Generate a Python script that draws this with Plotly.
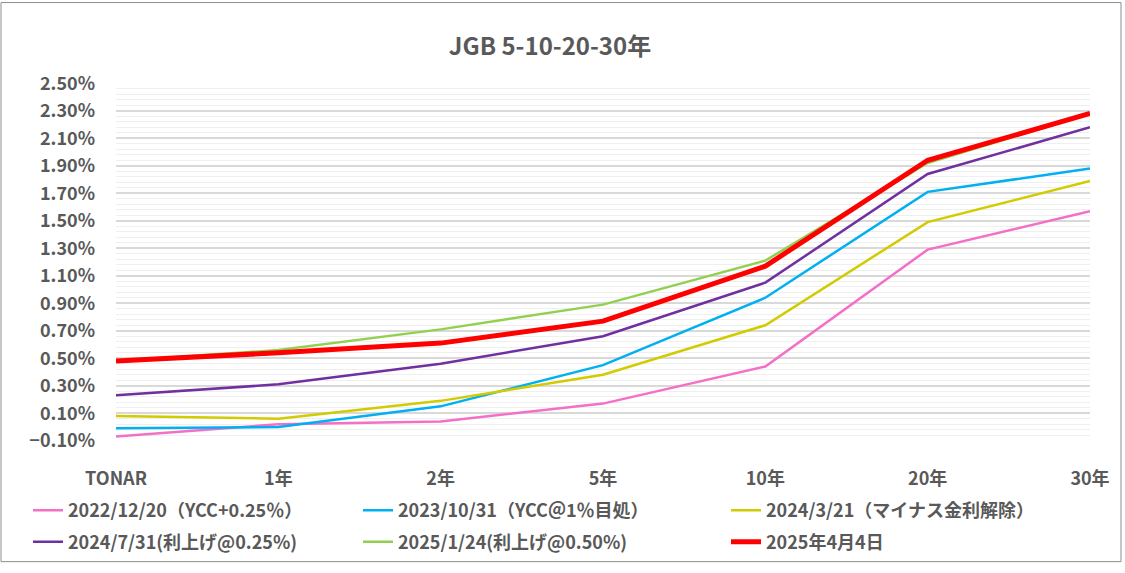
import plotly.graph_objects as go

# 年限（カテゴリ）
tenors = ["TONAR", "1年", "2年", "5年", "10年", "20年", "30年"]

# 各日付の利回り(%)
y_20221220 = [-0.07, 0.02, 0.04, 0.17, 0.44, 1.29, 1.57]
y_20231031 = [-0.01, 0.00, 0.15, 0.45, 0.94, 1.71, 1.88]
y_20240321 = [0.08, 0.06, 0.19, 0.38, 0.74, 1.49, 1.79]
y_20240731 = [0.23, 0.31, 0.46, 0.66, 1.05, 1.84, 2.18]
y_20250124 = [0.48, 0.56, 0.71, 0.89, 1.21, 1.92, 2.28]
y_20250404 = [0.48, 0.54, 0.61, 0.77, 1.17, 1.94, 2.28]

series = [
    ("2022/12/20（YCC+0.25％）", y_20221220, "#F46FC8", 2.5),
    ("2023/10/31（YCC＠1％目処）", y_20231031, "#00B0F0", 2.5),
    ("2024/3/21（マイナス金利解除）", y_20240321, "#D2CB00", 2.5),
    ("2024/7/31(利上げ@0.25%)", y_20240731, "#7030A0", 2.5),
    ("2025/1/24(利上げ@0.50%)", y_20250124, "#92D050", 2.5),
    ("2025年4月4日", y_20250404, "#FF0000", 5),
]

TXT = "#595959"
FONT = "Noto Sans CJK JP"

W, H = 1125, 573
L, R, T, B = 116, 1090, 83, 448


def px_x(p):
    return (p - L) / (R - L)


def px_y(p):
    return (B - p) / (B - T)


# legend slots (line start x, row centre y)
slots = [(33, 519), (363, 519), (731, 519), (33, 551), (363, 551), (731, 551)]

fig = go.Figure()
for i, (name, vals, color, w) in enumerate(series):
    lg = "legend" if i == 0 else f"legend{i + 1}"
    fig.add_trace(go.Scatter(
        x=tenors, y=vals, name=name, mode="lines",
        line=dict(color=color, width=w),
        legend=lg,
    ))

legends = {}
for i, (sx, sy) in enumerate(slots):
    key = "legend" if i == 0 else f"legend{i + 1}"
    legends[key] = dict(
        x=px_x(sx - 5), y=px_y(sy), xanchor="left", yanchor="middle",
        font=dict(family=FONT, size=18, color=TXT, weight="bold"),
        bgcolor="rgba(0,0,0,0)", borderwidth=0,
    )

fig.update_layout(
    width=W, height=H,
    margin=dict(l=L, r=W - R, t=T, b=H - B),
    paper_bgcolor="white", plot_bgcolor="white",
    font=dict(family=FONT, color=TXT),
    title=dict(
        text="<b>JGB 5-10-20-30年</b>",
        x=550 / W, xanchor="center", y=1 - 47 / H, yanchor="middle",
        font=dict(family=FONT, size=24, color=TXT),
    ),
    showlegend=True,
    **legends,
)

fig.update_xaxes(
    type="category", range=[0, 6],
    showgrid=False, showline=False, zeroline=False,
    ticks="", ticklabelstandoff=25,
    tickfont=dict(family=FONT, size=18, color=TXT, weight="bold"),
)
fig.update_yaxes(
    range=[-0.102, 2.502], tick0=-0.1, dtick=0.2,
    tickformat=".2f", ticksuffix="%",
    showgrid=True, gridcolor="#D9D9D9", gridwidth=1.5,
    zeroline=False, showline=False, ticks="", ticklabelstandoff=20,
    tickfont=dict(family=FONT, size=18, color=TXT, weight="bold"),
    minor=dict(dtick=0.04, tick0=-0.1, showgrid=True,
               gridcolor="#EFEFEF", gridwidth=1),
)

# chart border
fig.add_shape(
    type="rect", xref="paper", yref="paper",
    x0=px_x(1), x1=px_x(1121), y0=px_y(571), y1=px_y(1),
    line=dict(color="#8C8C8C", width=1), fillcolor="rgba(0,0,0,0)",
    layer="below",
)

fig.write_html(
    "out.html",
    config={"displayModeBar": False},
    post_script="document.body.style.margin='0';",
)
